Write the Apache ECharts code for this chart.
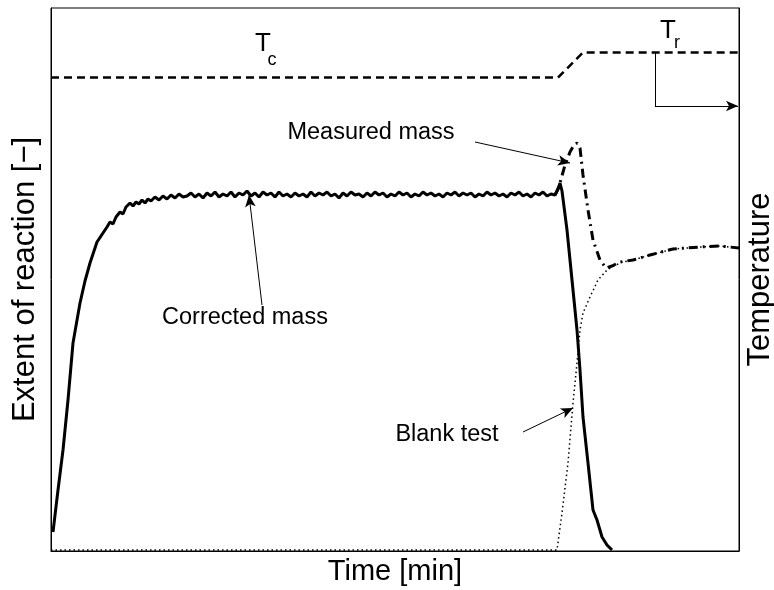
<!DOCTYPE html>
<html>
<head>
<meta charset="utf-8">
<script src="https://cdn.jsdelivr.net/npm/echarts@6/dist/echarts.min.js"></script>
<style>html,body{margin:0;padding:0;background:#fff}#c{width:774px;height:590px}</style>
</head>
<body>
<div id="c"></div>
<script>
// Time axis units 0..688, extent axis units 0..543, temperature axis 0..100
const corrected = [[2,19],[7,61],[12,101],[17,151],[22,208],[29,248],[34,270],[39,288],[46,309],[52,318],[56,324],[59,329],[62,327],[65,334],[69,339],[72,337],[75,344],[79,348],[82,345],[85,349],[88,347],[91,351],[94,348],[97,352],[100,350],[104,354],[108,351],[112,355],[116,352],[120,356],[124,353],[128,357],[132,354],[136,355],[140,358],[144,354],[148,357],[152,353],[156,358],[160,355],[164,359],[168,354],[172,357],[176,355],[180,359],[184,354],[188,358],[192,356],[196,360],[200,355],[204,358],[208,354],[212,359],[216,356],[220,358],[224,354],[228,359],[232,355],[236,357],[240,354],[244,358],[248,355],[252,357],[256,354],[260,359],[264,355],[268,358],[272,356],[276,359],[280,355],[284,357],[288,353],[292,358],[296,355],[300,359],[304,356],[308,357],[312,354],[316,358],[320,355],[324,359],[328,356],[332,358],[336,354],[340,357],[344,355],[348,359],[352,356],[356,358],[360,354],[364,357],[368,355],[372,359],[376,356],[380,358],[384,355],[388,357],[392,354],[396,358],[400,356],[404,359],[408,355],[412,358],[416,356],[420,358],[424,354],[428,357],[432,355],[436,359],[440,356],[444,358],[448,355],[452,357],[456,354],[460,358],[464,356],[468,359],[472,355],[476,357],[480,354],[484,358],[488,356],[492,359],[496,355],[500,357],[504,356],[507,362],[509,368],[511,360],[516,321],[521,271],[526,221],[529,181],[532,134],[537,88],[542,41],[546,31],[551,14],[556,6],[561,1]];
const measured = [[504,356],[507,362],[509,368],[514,386],[519,399],[523,406],[526,408],[529,403],[532,376],[537,341],[542,311],[549,291],[555,283],[561,285],[569,289],[582,291],[599,296],[622,302],[649,304],[669,305],[688,303]];
const blank = [[0,1],[506,1],[511,38],[517,88],[522,148],[526,188],[529,221],[532,238],[539,254],[547,271],[556,281],[563,285],[571,289],[582,291],[599,296],[622,302],[649,304],[669,305],[688,303]];
const temperature = [[0,87.2],[507,87.2],[532,91.8],[688,91.8]];
const labels = {
  measured: 'Measured mass',
  corrected: 'Corrected mass',
  blank: 'Blank test',
  x: 'Time [min]',
  y: 'Extent of reaction [\u2212]',
  y2: 'Temperature'
};

const FONT = 'Liberation Sans, Arial, Helvetica, sans-serif';
const chart = echarts.init(document.getElementById('c'), null, {renderer:'canvas'});

function txt(coord, text, size){
  return {coord: coord, symbol:'rect', symbolSize:1, itemStyle:{color:'rgba(0,0,0,0)'},
    label:{show:true, position:'inside', formatter:text, fontSize:size, color:'#000', fontFamily:FONT}};
}
function arrow(a, b){
  return [{coord:a, symbol:'none'}, {coord:b, symbol:'arrow'}];
}

chart.setOption({
  animation:false,
  backgroundColor:'#fff',
  grid:{left:51, right:35, top:8, bottom:39, show:true, borderColor:'#000', borderWidth:1,
    containLabel:false, outerBoundsMode:'none'},
  xAxis:{type:'value', min:0, max:688,
    axisLine:{show:true, lineStyle:{color:'#000', width:1}}, axisTick:{show:false}, axisLabel:{show:false}, splitLine:{show:false},
    name:labels.x, nameLocation:'middle', nameGap:6,
    nameTextStyle:{fontSize:29, color:'#000', fontFamily:FONT, verticalAlign:'top'}},
  yAxis:[
    {type:'value', min:0, max:543,
      axisLine:{show:true, lineStyle:{color:'#000', width:1}}, axisTick:{show:false}, axisLabel:{show:false}, splitLine:{show:false},
      name:labels.y, nameLocation:'middle', nameGap:10, nameRotate:90,
      nameTextStyle:{fontSize:31, color:'#000', fontFamily:FONT}},
    {type:'value', min:0, max:100, position:'right',
      axisLine:{show:true, lineStyle:{color:'#000', width:1}}, axisTick:{show:false}, axisLabel:{show:false}, splitLine:{show:false},
      name:labels.y2, nameLocation:'middle', nameGap:6, nameRotate:90,
      nameTextStyle:{fontSize:31, color:'#000', fontFamily:FONT}}
  ],
  series:[
    {type:'line', name:'blank', data:blank, showSymbol:false, symbol:'none', z:2,
      lineStyle:{color:'#000', width:1.5, type:[1.5,3]}},
    {type:'line', name:'measured', data:measured, showSymbol:false, symbol:'none', z:3,
      lineStyle:{color:'#000', width:3, type:[9,5,2,5]}},
    {type:'line', name:'temperature', yAxisIndex:1, data:temperature, showSymbol:false, symbol:'none', z:3,
      lineStyle:{color:'#000', width:2.5, type:[8,5]}},
    {type:'line', name:'corrected', data:corrected, showSymbol:false, symbol:'none', z:4,
      lineStyle:{color:'#000', width:3},
      markLine:{silent:true, symbolSize:[8,12], animation:false,
        lineStyle:{color:'#000', width:1, type:'solid'}, label:{show:false},
        data:[
          [{coord:[604,498], symbol:'none'},{coord:[604,445], symbol:'none'}],
          arrow([604,445],[687,445]),
          arrow([424,409],[519,388]),
          arrow([211,246],[198,356]),
          arrow([472,119],[522,143])
        ]},
      markPoint:{silent:true, animation:false,
        data:[
          txt([320,418], labels.measured, 23.5),
          txt([194,233], labels.corrected, 23.5),
          txt([396,116], labels.blank, 23.5),
          txt([212,507], 'T', 26),
          txt([221,491], 'c', 18),
          txt([617,520], 'T', 26),
          txt([626,508], 'r', 18)
        ]}
    }
  ]
});
</script>
</body>
</html>
